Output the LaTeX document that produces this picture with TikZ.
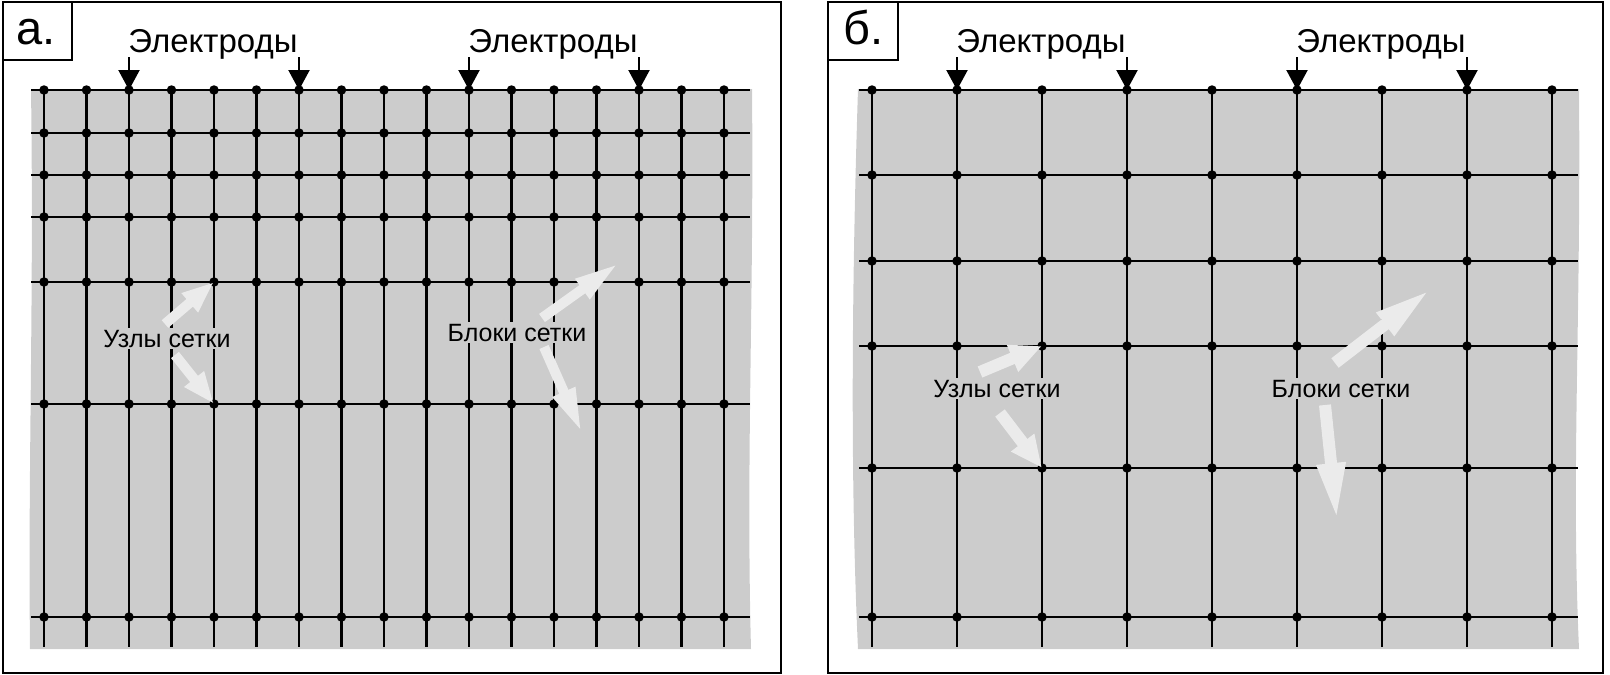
\documentclass[tikz,border=0pt]{standalone}
\usepackage{fontspec}
\setmainfont{Liberation Sans}
\usetikzlibrary{arrows.meta,calc}
\definecolor{bggray}{HTML}{CCCCCC}
\definecolor{callout}{HTML}{EBEBEB}
\begin{document}
\begin{tikzpicture}[x=1pt,y=-1pt,
  frame/.style={draw=black,line width=2.2pt},
  gridline/.style={line width=2.8pt,black},
  dot/.style={circle,fill=black,inner sep=0pt,minimum size=9.5pt},
  electrode/.style={line width=2.2pt,-{Triangle[length=20pt,width=21pt]}},
  eltext/.style={anchor=base,inner sep=0pt,font=\fontsize{33}{38}\selectfont},
  paneltag/.style={anchor=base west,inner sep=0pt,font=\fontsize{47}{50}\selectfont},
  smalltext/.style={anchor=base,fill=bggray,inner sep=2pt,font=\fontsize{25}{28}\selectfont},
  calloutA/.style={callout,line width=10pt,-{Triangle[length=32pt,width=23pt]}},
  calloutB/.style={callout,line width=10pt,-{Triangle[length=45pt,width=22pt]}},
  calloutC/.style={callout,line width=12pt,-{Triangle[length=32pt,width=27pt]}},
  calloutD/.style={callout,line width=12pt,-{Triangle[length=58pt,width=26pt]}}
]
\useasboundingbox (0,0) rectangle (1610,675);

% ---------- frames ----------
\draw[frame] (3,2) rectangle (781,673);
\draw[frame] (3,2) rectangle (72,60);
\draw[frame] (828,2) rectangle (1603,673);
\draw[frame] (828,2) rectangle (898,60);
\node[paneltag] (tagA) at (16,44) {а.};
\node[paneltag] (tagB) at (843,44) {б.};

% ---------- gray areas ----------
\fill[bggray] (31,89) -- (752,89) .. controls (754,300) and (746,460) .. (751,649)
  -- (30,649) .. controls (28,460) and (34,300) .. (31,89) -- cycle;
\fill[bggray] (858,89) -- (1579,89) .. controls (1581,330) and (1571,470) .. (1579,649)
  -- (858,649) .. controls (852,520) and (850,340) .. (858,89) -- cycle;

% ---------- left grid ----------
\foreach \y in {90,133,175,217,282,404,617}
  \draw[gridline] (31,\y) -- (750,\y);
\foreach \i in {0,...,16}
  \draw[gridline] ({44+42.5*\i},90) -- ({44+42.5*\i},647);
\foreach \y [count=\j] in {90,133,175,217,282,404,617}
  \foreach \i in {0,...,16}
    \node[dot] (L-\i-\j) at ({44+42.5*\i},\y) {};

% ---------- right grid ----------
\foreach \y in {90,175,261,346,468,617}
  \draw[gridline] (859,\y) -- (1578,\y);
\foreach \i in {0,...,8}
  \draw[gridline] ({872+85*\i},90) -- ({872+85*\i},647);
\foreach \y [count=\j] in {90,175,261,346,468,617}
  \foreach \i in {0,...,8}
    \node[dot] (R-\i-\j) at ({872+85*\i},\y) {};

% ---------- electrodes ----------
\foreach \i in {2,6,10,14}{
  \coordinate (eL\i) at ({44+42.5*\i},57);
  \draw[electrode] (eL\i) -- (L-\i-1.center);
}
\foreach \i in {1,3,5,7}{
  \coordinate (eR\i) at ({872+85*\i},57);
  \draw[electrode] (eR\i) -- (R-\i-1.center);
}
\node[eltext] (elA1) at (213,52) {Электроды};
\node[eltext] (elA2) at (553,52) {Электроды};
\node[eltext] (elB1) at (1041,52) {Электроды};
\node[eltext] (elB2) at (1381,52) {Электроды};

% ---------- callout arrows, left ----------
\coordinate (uA1) at (165,324);
\coordinate (uA2) at (175,355);
\draw[calloutA] (uA1) -- (L-4-5.center);
\draw[calloutA] (uA2) -- (L-4-6.center);
\coordinate (bA1) at (542,318);
\coordinate (bA1e) at (619,263);
\coordinate (bA2) at (544,347);
\coordinate (bA2e) at (582,433);
\draw[calloutB] (bA1) -- (bA1e);
\draw[calloutB] (bA2) -- (bA2e);
\node[smalltext] (uzA) at (167,347) {Узлы сетки};
\node[smalltext] (blA) at (517,341) {Блоки сетки};

% ---------- callout arrows, right ----------
\coordinate (uB1) at (980,372);
\coordinate (uB2) at (1000,413);
\draw[calloutC] (uB1) -- (R-2-4.center);
\draw[calloutC] (uB2) -- (R-2-5.center);
\coordinate (bB1) at (1335,363);
\coordinate (bB1e) at (1431,289);
\coordinate (bB2) at (1325,405);
\coordinate (bB2e) at (1337,521);
\draw[calloutD] (bB1) -- (bB1e);
\draw[calloutD] (bB2) -- (bB2e);
\node[smalltext] (uzB) at (997,397) {Узлы сетки};
\node[smalltext] (blB) at (1341,397) {Блоки сетки};
\end{tikzpicture}
\end{document}
